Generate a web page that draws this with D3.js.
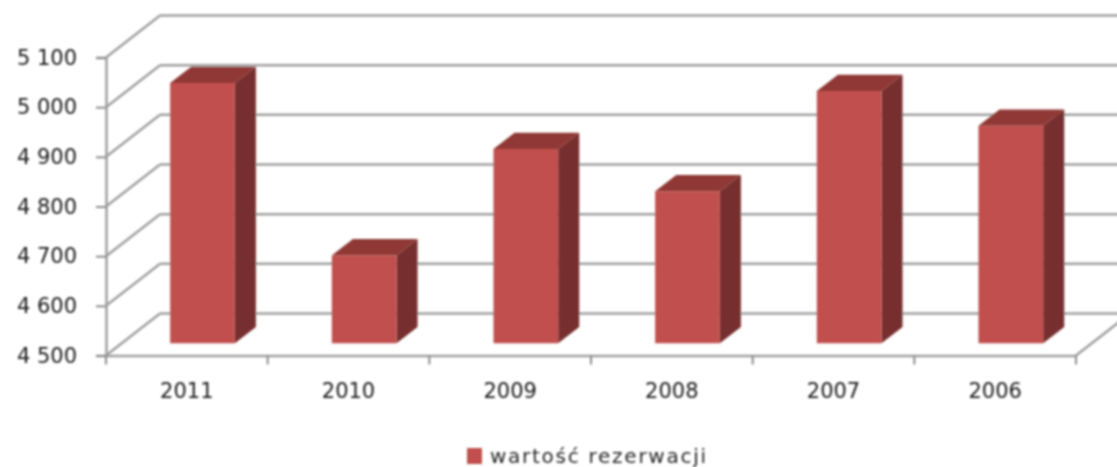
<!DOCTYPE html>
<html>
<head>
<meta charset="utf-8">
<script src="https://cdn.jsdelivr.net/npm/d3@7"></script>
<style>
    html, body { margin: 0; padding: 0; background: #fff; overflow: hidden; }
    text { font-family: "DejaVu Sans", sans-serif; fill: #262626; }
</style>
</head>
<body>
<div id="chart"></div>
<script>
// Chart values
const years = ["2011", "2010", "2009", "2008", "2007", "2006"];
const bookings = [5024, 4677, 4891, 4806, 5008, 4938];
const yTicks = [4500, 4600, 4700, 4800, 4900, 5000, 5100];
const seriesName = "wartość rezerwacji";

const width = 1117, height = 467;
const gridColor = "#a0a0a0", tickColor = "#8c8c8c";

// Depth of the fake 3D box, and where the bars sit inside it (0 = front, 1 = back)
const depth = { dx: 54, dy: -42 };
const barFront = 0.29, barBack = 0.68;

const svg = d3.select("#chart").append("svg")
    .attr("width", width)
    .attr("height", height);

// Reference is a scaled up bitmap, so everything is slightly soft
svg.append("filter").attr("id", "soft")
    .append("feGaussianBlur").attr("stdDeviation", 0.8);

const chart = svg.append("g").attr("filter", "url(#soft)");

const x = d3.scaleBand().domain(years).range([106, 1076]);
const xEdge = d3.scaleLinear().domain([0, years.length]).range([106, 1076]);
const y = d3.scaleLinear().domain([4500, 5100]).range([355.5, 57.5]);

const barWidth = x.bandwidth() * 0.4;

// Project a point of the box to the screen
const px = (sx, d) => sx + depth.dx * d;
const py = (sy, d) => sy + depth.dy * d;

/*
----------------------------------------------------
    Grid
----------------------------------------------------
*/
const grid = chart.append("g")
    .attr("fill", "none")
    .attr("stroke", gridColor)
    .attr("stroke-width", 2.5);

yTicks.forEach(v => {
    // back wall
    grid.append("line")
        .attr("x1", px(106, 1)).attr("x2", px(1076, 1))
        .attr("y1", py(y(v), 1)).attr("y2", py(y(v), 1));
    // side wall
    grid.append("line")
        .attr("x1", 106).attr("x2", px(106, 1))
        .attr("y1", y(v)).attr("y2", py(y(v), 1));
});

// right edge of the floor
grid.append("line")
    .attr("x1", 1076).attr("x2", px(1076, 1))
    .attr("y1", y(4500)).attr("y2", py(y(4500), 1));

/*
----------------------------------------------------
    Axes
----------------------------------------------------
*/
const spaceFormat = d3.formatLocale({ decimal: ",", thousands: " ", grouping: [3], currency: ["", ""] }).format(",d");

const yAxis = chart.append("g")
    .attr("transform", "translate(106,0)")
    .call(d3.axisLeft(y).tickValues(yTicks).tickFormat(spaceFormat).tickSize(10).tickPadding(19));

const xAxis = chart.append("g")
    .attr("transform", "translate(0," + y(4500) + ")")
    .call(d3.axisBottom(x).tickSize(0).tickPadding(28));

// ticks on the x axis sit between the categories
xAxis.selectAll("line.edge")
    .data(d3.range(years.length + 1))
    .enter()
    .append("line")
    .attr("class", "edge")
    .attr("x1", d => xEdge(d))
    .attr("x2", d => xEdge(d))
    .attr("y1", 0)
    .attr("y2", 9);

[yAxis, xAxis].forEach(axis => {
    axis.selectAll(".domain").attr("stroke", gridColor).attr("stroke-width", 2.5);
    axis.selectAll("line").attr("stroke", tickColor).attr("stroke-width", 2);
    axis.selectAll("text")
        .attr("font-family", "DejaVu Sans, sans-serif")
        .attr("font-size", 21)
        .style("fill", "#1c1c1c");
});

/*
----------------------------------------------------
    Bars
----------------------------------------------------
*/
const polygon = pts => pts.map(p => p.join(",")).join(" ");

const bars = chart.selectAll("g.bar")
    .data(years.map((d, i) => ({ year: d, value: bookings[i] })))
    .enter()
    .append("g")
    .attr("class", "bar");

// corners of a bar: s = 0 left / 1 right, top = value / floor, d = depth
const corner = (b, s, top, d) => {
    const sx = x(b.year) + (x.bandwidth() - barWidth) / 2 + s * barWidth;
    return [px(sx, d), py(top ? y(b.value) : y(4500), d)];
};

// right side
bars.append("polygon")
    .attr("fill", "#772f2d")
    .attr("points", b => polygon([
        corner(b, 1, true, barFront), corner(b, 1, true, barBack),
        corner(b, 1, false, barBack), corner(b, 1, false, barFront)]));

// top
bars.append("polygon")
    .attr("fill", "#8f3835")
    .attr("points", b => polygon([
        corner(b, 0, true, barFront), corner(b, 0, true, barBack),
        corner(b, 1, true, barBack), corner(b, 1, true, barFront)]));

// front
bars.append("polygon")
    .attr("fill", "#c0504d")
    .attr("points", b => polygon([
        corner(b, 0, true, barFront), corner(b, 1, true, barFront),
        corner(b, 1, false, barFront), corner(b, 0, false, barFront)]));

/*
----------------------------------------------------
    Legend
----------------------------------------------------
*/
const legend = chart.append("g").attr("transform", "translate(467,448)");

legend.append("rect")
    .attr("width", 15)
    .attr("height", 16)
    .attr("fill", "#c0504d");

legend.append("text")
    .attr("x", 23)
    .attr("y", 15)
    .attr("font-size", 20)
    .attr("textLength", 216)
    .attr("lengthAdjust", "spacing")
    .text(seriesName);
</script>
</body>
</html>
